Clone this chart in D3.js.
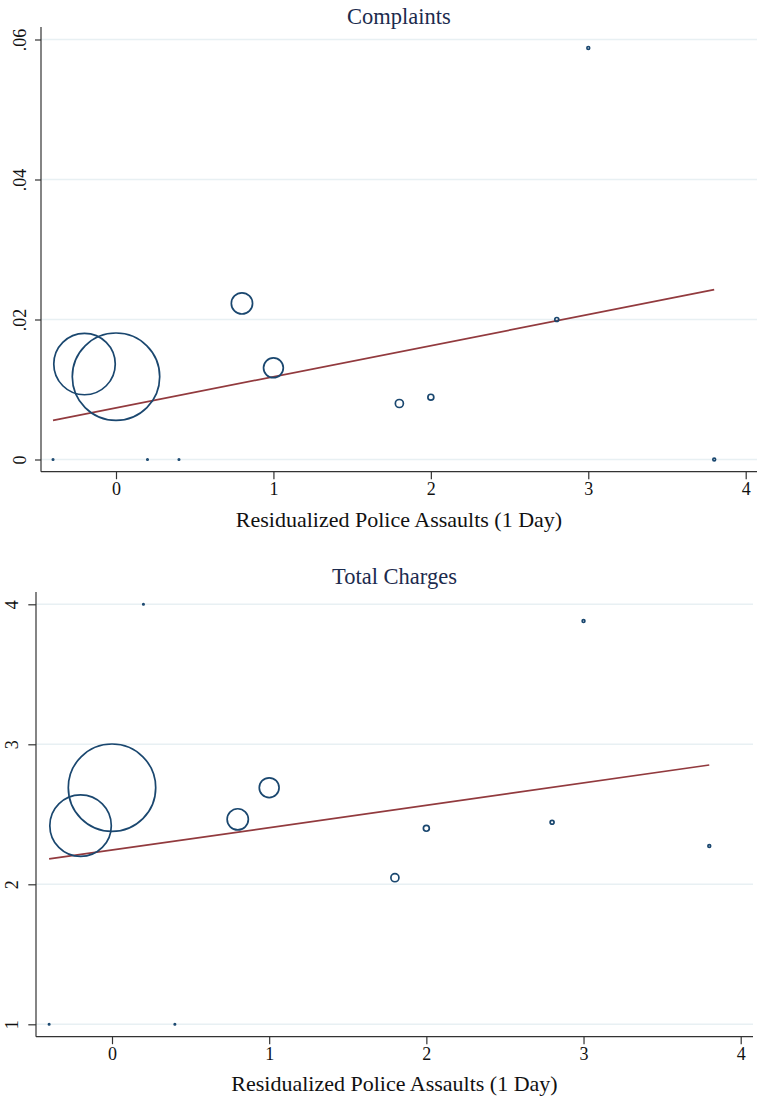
<!DOCTYPE html>
<html>
<head>
<meta charset="utf-8">
<script src="https://cdn.jsdelivr.net/npm/d3@7"></script>
<style>
  body { margin: 0; background: #fff; }
  svg { display: block; font-family: "Liberation Serif", "Times New Roman", serif; }
  .grid line { stroke: #e8f0f3; stroke-width: 1.5; }
  .axis path, .axis line { stroke: #333; stroke-width: 1.2; }
  .axis text { font-family: "Liberation Serif", "Times New Roman", serif; font-size: 18px; fill: #111; }
  .title { font-size: 22.5px; fill: #1c2b4e; }
  .xlabel { font-size: 22px; fill: #111; }
</style>
</head>
<body>
<svg width="757" height="1097"></svg>
<script>
// bins of residualized police assaults, with their observation counts
const assaults = [-0.4, -0.2, 0, 0.2, 0.4, 0.8, 1.0, 1.8, 2.0, 2.8, 3.0, 3.8];
const counts = [1, 1930, 3900, 1, 1, 230, 200, 33, 18, 8, 4, 4];

const complaints = [0, 0.01364, 0.01183, 0, 0, 0.0223, 0.0131, 0.0080, 0.0089, 0.0200, 0.0588, 0];
const totalCharges = [1, 2.419, 2.69, 4, 1, 2.464, 2.69, 2.047, 2.40, 2.443, 3.881, 2.274];

// fitted line, values at the ends of the assault range
const fitX = [-0.4, 3.8];
const complaintsFit = [0.0056, 0.02426];
const chargesFit = [2.181, 2.852];

const xTicks = [0, 1, 2, 3, 4];
const complaintsTicks = [0, 0.02, 0.04, 0.06];
const chargesTicks = [1, 2, 3, 4];

const svg = d3.select("svg");

const scaleR = d3.scaleSqrt().domain([0, 3900]).range([0, 43.7]);

const drawPanel = function(p) {
  const g = svg.append("g");

  const scaleX = d3.scaleLinear().domain([0, 4]).range(p.xRange);
  const scaleY = d3.scaleLinear().domain(p.yDomain).range(p.yRange);

  // horizontal grid
  g.append("g")
    .attr("class", "grid")
    .selectAll("line")
    .data(p.yTicks)
    .enter()
    .append("line")
    .attr("x1", p.left)
    .attr("x2", p.right)
    .attr("y1", d => scaleY(d))
    .attr("y2", d => scaleY(d));

  const axisX = d3.axisBottom(scaleX)
    .tickValues(xTicks)
    .tickFormat(d3.format("d"))
    .tickSizeInner(7.5)
    .tickSizeOuter(0)
    .tickPadding(3);
  const axisY = d3.axisLeft(scaleY)
    .tickValues(p.yTicks)
    .tickFormat(p.yFormat)
    .tickSizeInner(p.yTickLen)
    .tickSizeOuter(0)
    .tickPadding(0);

  const gx = g.append("g")
    .attr("class", "axis")
    .attr("transform", `translate(0, ${p.bottom})`)
    .call(axisX);
  gx.select(".domain").remove();
  gx.append("line")
    .attr("x1", p.left)
    .attr("x2", p.right);

  const gy = g.append("g")
    .attr("class", "axis")
    .attr("transform", `translate(${p.left}, 0)`)
    .call(axisY);
  gy.select(".domain").remove();
  gy.append("line")
    .attr("y1", p.top)
    .attr("y2", p.bottom);
  gy.selectAll(".tick text")
    .attr("x", null)
    .attr("dy", null)
    .attr("text-anchor", "middle")
    .attr("transform", `translate(${-p.yLabelOffset}, 0) rotate(-90)`);

  // fitted line
  const line = d3.line()
    .x(d => scaleX(d[0]))
    .y(d => scaleY(d[1]));
  g.append("path")
    .datum(fitX.map((x, i) => [x, p.fit[i]]))
    .attr("d", line)
    .attr("fill", "none")
    .attr("stroke", "#923a3e")
    .attr("stroke-width", 1.7);

  // weighted hollow markers
  g.append("g")
    .selectAll("circle")
    .data(assaults.map((x, i) => ({ x: x, y: p.values[i], n: counts[i] })))
    .enter()
    .append("circle")
    .attr("cx", d => scaleX(d.x))
    .attr("cy", d => scaleY(d.y))
    .attr("r", d => scaleR(d.n))
    .attr("fill", "none")
    .attr("stroke", "#1a476f")
    .attr("stroke-width", 1.7);

  g.append("text")
    .attr("class", "title")
    .attr("x", (p.left + p.right) / 2)
    .attr("y", p.titleY)
    .attr("text-anchor", "middle")
    .text(p.title);

  g.append("text")
    .attr("class", "xlabel")
    .attr("x", (p.left + p.right) / 2)
    .attr("y", p.labelY)
    .attr("text-anchor", "middle")
    .text("Residualized Police Assaults (1 Day)");
};

drawPanel({
  title: "Complaints",
  values: complaints,
  fit: complaintsFit,
  yTicks: complaintsTicks,
  yFormat: d => d === 0 ? "0" : d3.format(".2f")(d).replace(/^0/, ""),
  yDomain: [0, 0.06],
  yRange: [459.5, 39.5],
  xRange: [116, 745.7],
  left: 41,
  right: 757,
  top: 27,
  bottom: 471.7,
  yTickLen: 6,
  yLabelOffset: 15.5,
  titleY: 23.5,
  labelY: 527
});

drawPanel({
  title: "Total Charges",
  values: totalCharges,
  fit: chargesFit,
  yTicks: chargesTicks,
  yFormat: d3.format("d"),
  yDomain: [1, 4],
  yRange: [1024.3, 604.3],
  xRange: [112, 740.7],
  left: 36,
  right: 753,
  top: 592,
  bottom: 1036.7,
  yTickLen: 7.7,
  yLabelOffset: 18.5,
  titleY: 583.5,
  labelY: 1091
});
</script>
</body>
</html>
